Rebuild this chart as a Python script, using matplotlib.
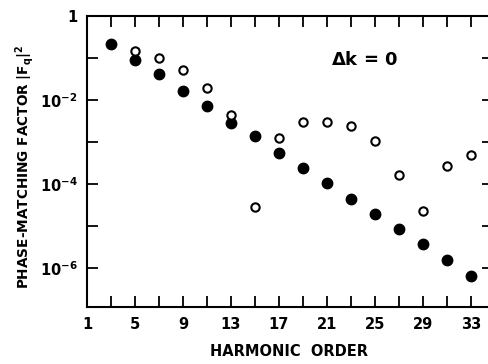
import matplotlib.pyplot as plt
import numpy as np
from matplotlib.ticker import FixedLocator, FixedFormatter

plt.rcParams['font.family'] = ['DejaVu Sans']
plt.rcParams['font.weight'] = 'bold'
plt.rcParams['mathtext.fontset'] = 'custom'
plt.rcParams['mathtext.rm'] = 'DejaVu Sans:bold'
plt.rcParams['mathtext.it'] = 'DejaVu Sans:bold'
plt.rcParams['mathtext.bf'] = 'DejaVu Sans:bold'

# filled circles
q_filled = [3, 5, 7, 9, 11, 13, 15, 17, 19, 21, 23, 25, 27, 29, 31, 33]
f_filled = [0.215, 0.09, 0.041, 0.016, 0.0072, 0.0029, 0.0014, 5.6e-4,
            2.45e-4, 1.07e-4, 4.5e-5, 1.94e-5, 8.3e-6, 3.7e-6, 1.55e-6, 6.4e-7]

# open circles
q_open = [5, 7, 9, 11, 13, 15, 17, 19, 21, 23, 25, 27, 29, 31, 33]
f_open = [0.147, 0.102, 0.052, 0.0196, 0.0044, 2.8e-5, 1.22e-3, 2.94e-3,
          3.04e-3, 2.4e-3, 1.04e-3, 1.6e-4, 2.3e-5, 2.7e-4, 4.9e-4]

x_labels = ['1', '5', '9', '13', '17', '21', '25', '29', '33']
y_labels = ['1', '10$^{-2}$', '10$^{-4}$', '10$^{-6}$']

fig = plt.figure(figsize=(4.89, 3.64), dpi=100)
# right spine falls just outside the picture, as in the scan
ax = fig.add_axes([87 / 489, 1 - 307 / 364, 406 / 489, 291 / 364])

ax.plot(q_filled, f_filled, 'o', color='black', markersize=7.5, zorder=3)
ax.plot(q_open, f_open, 'o', markerfacecolor='white', markeredgecolor='black',
        markeredgewidth=1.5, markersize=6, zorder=3)

ax.set_yscale('log')
ax.set_xlim(1, 1 + 406 / 12)
ax.set_ylim(10 ** -6.93, 1)

ax.xaxis.set_major_locator(FixedLocator([int(s) for s in x_labels]))
ax.xaxis.set_major_formatter(FixedFormatter(x_labels))
ax.xaxis.set_minor_locator(FixedLocator(np.arange(3, 34, 4)))
ax.yaxis.set_major_locator(FixedLocator([1, 1e-2, 1e-4, 1e-6]))
ax.yaxis.set_major_formatter(FixedFormatter(y_labels))
ax.yaxis.set_minor_locator(FixedLocator([1e-1, 1e-3, 1e-5, 1e-7]))
ax.yaxis.set_minor_formatter(FixedFormatter(['', '', '', '']))

ax.tick_params(which='both', direction='in', top=True, right=True,
               length=8, width=1.3, labelsize=10.5, pad=7)
for s in ax.spines.values():
    s.set_linewidth(1.5)
ax.spines['right'].set_visible(False)

fig.text(365 / 489, 1 - 60 / 364, r'$\Delta$k = 0', fontsize=13,
         ha='center', va='center')
fig.text(25 / 489, 1 - 167 / 364, 'PHASE-MATCHING FACTOR |F$_q$|$^2$',
         rotation=90, ha='center', va='center', fontsize=9.8)
fig.text(289 / 489, 1 - 352 / 364, 'HARMONIC  ORDER', ha='center',
         va='center', fontsize=10.5)

fig.savefig('out.png', dpi=100)
